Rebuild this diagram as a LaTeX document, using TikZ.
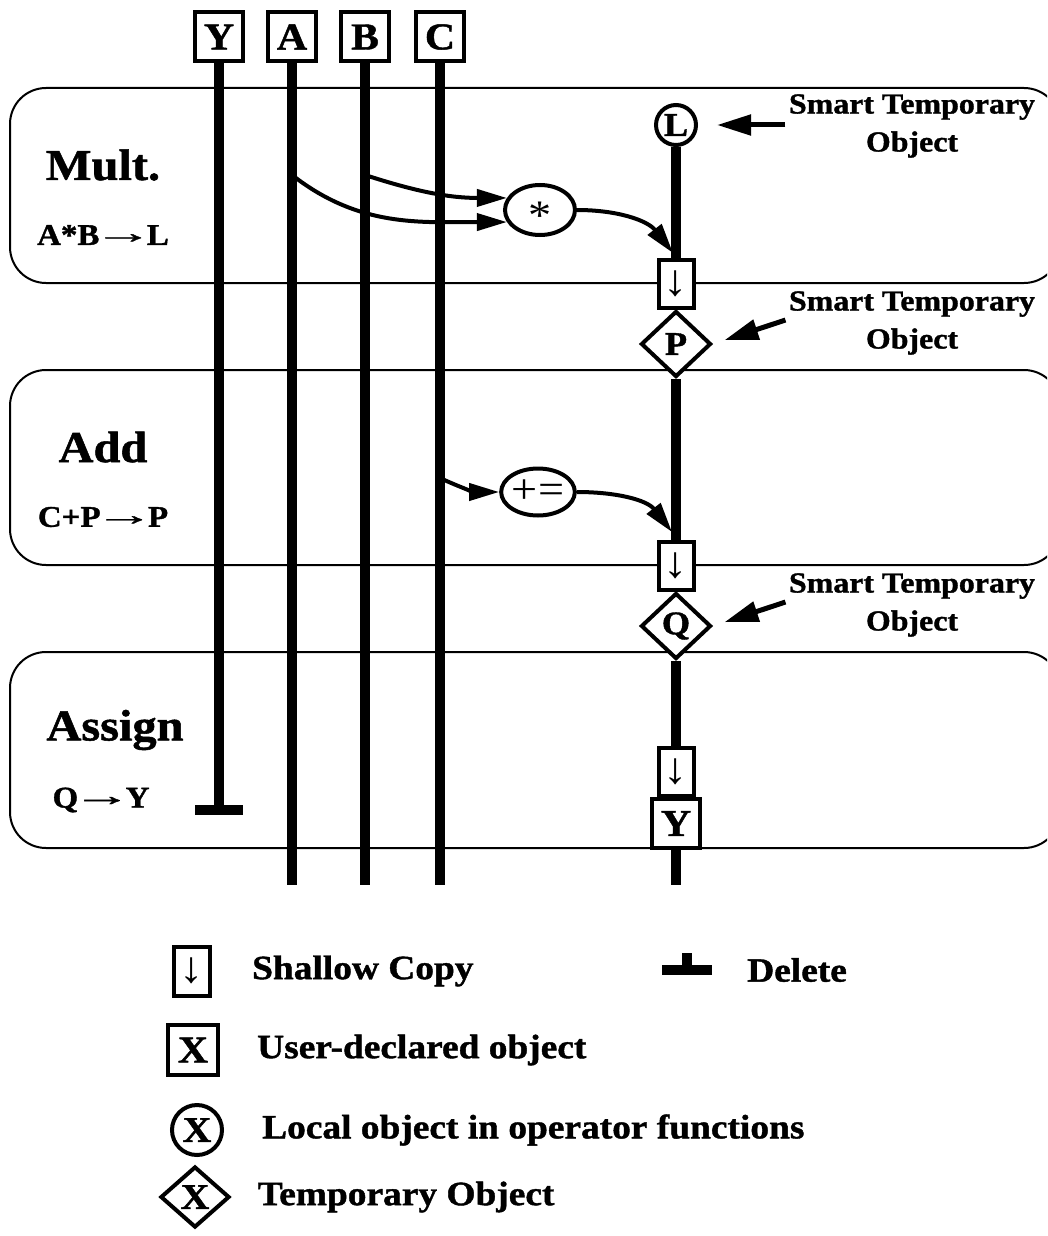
\documentclass[tikz,border=0pt]{standalone}
\usepackage{fontspec}
\setmainfont{Liberation Serif}[FakeStretch=1.1, BoldFeatures={FakeBold=1.2}]
\usetikzlibrary{positioning}
\usetikzlibrary{calc}
\usetikzlibrary{arrows.meta}
\usetikzlibrary{shapes.geometric}

\newcommand{\into}{\hspace{-6pt}\raisebox{2pt}{\scalebox{1.8}[1]{→}}\hspace{-6pt}}

\begin{document}
\begin{tikzpicture}[x=1pt, y=1pt,
    obj/.style={draw, line width=4pt, fill=white, inner sep=0pt, minimum width=48pt, minimum height=49pt, font=\fontsize{38}{38}\selectfont\bfseries},
    cpy/.style={draw, line width=4pt, fill=white, inner sep=0pt, minimum width=35pt, minimum height=48pt, font=\fontsize{44}{44}\selectfont},
    loc/.style={circle, draw, line width=4pt, fill=white, inner sep=0pt, minimum size=40pt, font=\fontsize{33}{33}\selectfont\bfseries},
    tmp/.style={diamond, draw, line width=4pt, fill=white, inner sep=0pt, minimum width=70pt, minimum height=66pt, font=\fontsize{33}{33}\selectfont\bfseries},
    op/.style={ellipse, draw, line width=4pt, fill=white, inner sep=0pt, minimum width=70pt, minimum height=50pt, font=\fontsize{42}{42}\selectfont},
    stage/.style={draw, line width=2pt, rounded corners=36pt},
    title/.style={font=\fontsize{44}{44}\selectfont\bfseries},
    sub/.style={font=\fontsize{30}{30}\selectfont\bfseries},
    note/.style={align=center, font=\fontsize{29}{38}\selectfont\bfseries},
    key/.style={inner sep=0pt, font=\fontsize{34}{34}\selectfont\bfseries},
    life/.style={line width=10pt},
    flow/.style={line width=4pt, -{Triangle[length=30pt, width=17pt]}},
    ptr/.style={line width=5pt, -{Triangle[length=34pt, width=20pt]}}]

    \useasboundingbox (0,0) rectangle (1047,-1236);
    \clip (0,0) rectangle (1047,-1236);

    % stages
    \draw[stage] (10,-88) rectangle (1060,-283);
    \draw[stage] (10,-370) rectangle (1060,-565);
    \draw[stage] (10,-652) rectangle (1060,-848);
    \node[title] (mult) at (103,-165) {Mult.};
    \node[sub] (multop) at (103,-235) {A*B\into L};
    \node[title] (add) at (103,-447) {Add};
    \node[sub] (addop) at (103,-517) {C+P\into P};
    \node[title] (assign) at (115,-730) {Assign};
    \node[sub] (assignop) at (101,-800) {Q\into Y};

    % user objects
    \foreach \n/\x in {Y/219, A/292, B/365, C/440} {
        \node[obj] (\n) at (\x,-37) {\n};
    }
    \coordinate (Yend) at (219,-810);
    \foreach \n in {A, B, C} {
        \coordinate (\n end) at (\n |- 0,-885);
    }
    \draw[life] (Y) -- (Yend);
    \draw[life] ($(Yend)+(-24,0)$) -- ($(Yend)+(24,0)$);
    \foreach \n in {A, B, C} {
        \draw[life] (\n) -- (\n end);
    }

    % temporaries
    \node[loc] (L) at (676,-125) {L};
    \node[cpy] (cp1) at (676,-284) {↓};
    \node[tmp] (P) at (676,-344) {P};
    \node[cpy] (cp2) at (676,-566) {↓};
    \node[tmp] (Q) at (676,-626) {Q};
    \node[cpy] (cp3) at (676,-772) {↓};
    \node[obj] (Yr) at (676,-823.5) {Y};
    \coordinate (Rend) at (676,-885);
    \draw[life] (L) -- (cp1);
    \draw[life] (cp1) -- (P);
    \draw[life] (P) -- (cp2);
    \draw[life] (cp2) -- (Q);
    \draw[life] (Q) -- (cp3);
    \draw[life] (Yr) -- (Rend);

    % operators
    \node[op] (mul) at (540,-210) {\raisebox{-19pt}[0pt][0pt]{*}};
    \node[op, minimum width=73pt, minimum height=47pt] (pl) at (538,-492) {+=};
    \coordinate (aOut) at (292,-175);
    \coordinate (bOut) at (365,-175);
    \coordinate (cOut) at (440,-478);
    \coordinate (mulIn) at (673,-253);
    \coordinate (plIn) at (672,-532);
    \draw[flow] (aOut) to[out=-38, in=180] (mul.200);
    \draw[flow] (bOut) to[out=-18, in=180] (mul.160);
    \draw[flow] (mul.east) to[out=0, in=128] (mulIn);
    \draw[flow] (cOut) to[out=-25, in=180] (pl.west);
    \draw[flow] (pl.east) to[out=0, in=128] (plIn);

    % notes
    \node[note] (st1) at (912,-126) {Smart Temporary\\Object};
    \node[note] (st2) at (912,-323) {Smart Temporary\\Object};
    \node[note] (st3) at (912,-605) {Smart Temporary\\Object};
    \draw[ptr, shorten >=19pt] (st1.west |- L) -- (L.east);
    \draw[ptr, shorten >=12pt] ([yshift=3pt]st2.west) -- (P.east);
    \draw[ptr, shorten >=12pt] ([yshift=3pt]st3.west) -- (Q.east);

    % legend
    \node[cpy, minimum width=36pt, minimum height=49pt] (kCopy) at (192,-971) {↓};
    \node[key, anchor=west, right=40pt of kCopy] (kCopyT) {Shallow Copy};
    \node[obj, minimum width=50pt, minimum height=50pt] (kUser) at (193,-1050) {X};
    \node[key, anchor=west, right=37pt of kUser] (kUserT) {User-declared object};
    \node[loc, minimum size=50pt, font=\fontsize{36}{36}\selectfont\bfseries] (kLoc) at (197,-1130) {X};
    \node[key, anchor=west, right=38pt of kLoc] (kLocT) {Local object in operator functions};
    \node[tmp, minimum width=69pt, minimum height=61pt, font=\fontsize{36}{36}\selectfont\bfseries] (kTmp) at (195,-1197) {X};
    \node[key, anchor=west, right=26pt of kTmp] (kTmpT) {Temporary Object};
    \coordinate (kDel) at (687,-970);
    \fill ($(kDel)+(-25,5)$) rectangle ($(kDel)+(25,-5)$);
    \fill ($(kDel)+(-5,5)$) rectangle ($(kDel)+(5,17)$);
    \node[key, anchor=west] (kDelT) at (747,-970) {Delete};
\end{tikzpicture}
\end{document}
